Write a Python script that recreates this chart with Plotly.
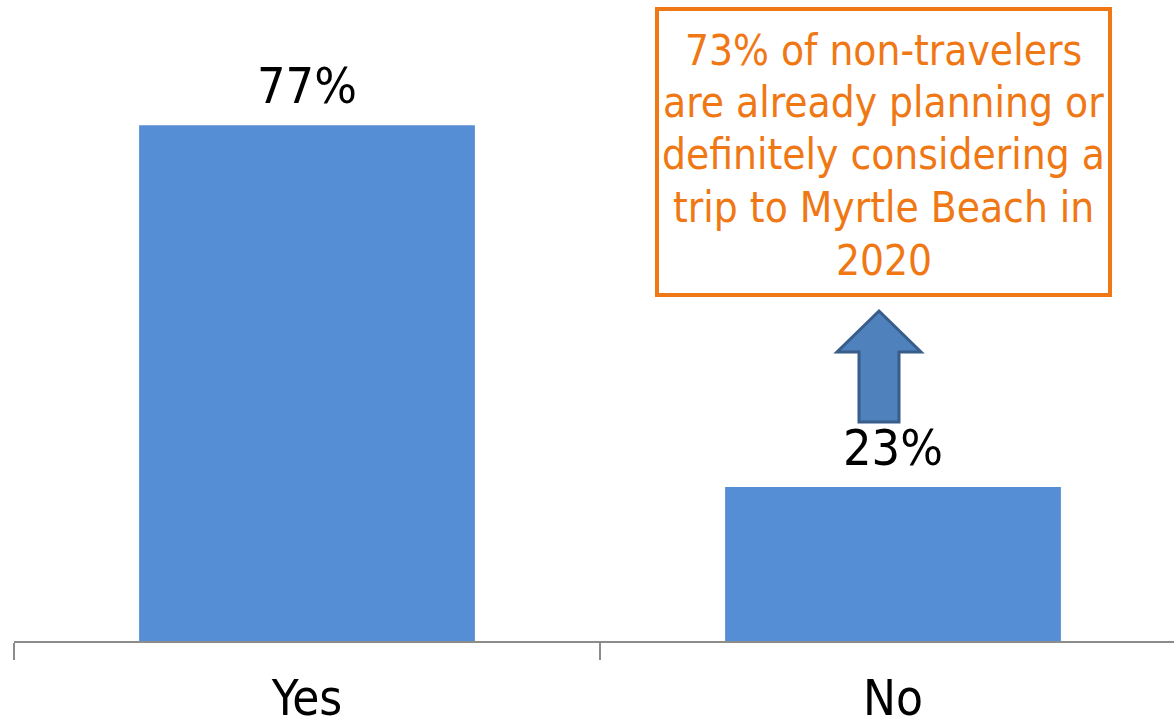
import plotly.graph_objects as go

# Survey answers and shares (%)
categories = ["Yes", "No"]
shares = [77, 23]
value_labels = ["77%", "23%"]
callout_lines = [
    "73% of non-travelers",
    "are already planning or",
    "definitely considering a",
    "trip to Myrtle Beach in",
    "2020",
]

FONT = "DejaVu Sans Condensed"
BAR_COLOR = "#558ED5"
ORANGE = "#F07814"

fig = go.Figure(
    go.Bar(
        x=categories,
        y=shares,
        marker=dict(color=BAR_COLOR, line=dict(width=0)),
        width=0.573,
    )
)

# Value labels above each bar
for cat, val, lab in zip(categories, shares, value_labels):
    fig.add_annotation(x=cat, y=val, text=lab, showarrow=False,
                       xanchor="center", yanchor="bottom", yshift=8,
                       font=dict(family=FONT, size=50, color="#000000"))

fig.update_layout(
    width=1174,
    height=727,
    margin=dict(l=14, r=0, t=0, b=86),
    paper_bgcolor="white",
    plot_bgcolor="white",
    showlegend=False,
    xaxis=dict(
        type="category",
        range=[-0.5, 1.4795],
        automargin=False,
        showline=True,
        linecolor="#8C8C8C",
        linewidth=1.5,
        ticks="outside",
        tickson="boundaries",
        ticklen=17,
        tickcolor="#8C8C8C",
        tickwidth=1.5,
        ticklabelstandoff=13,
        tickfont=dict(family=FONT, size=49, color="#000000"),
        showgrid=False,
        zeroline=False,
    ),
    yaxis=dict(
        range=[0, 95.7],
        visible=False,
        automargin=False,
        showgrid=False,
        zeroline=False,
    ),
)

# Up arrow above the "No" bar (paper coordinates)
def px_to_paper(px, py):
    return (px - 14) / 1160, (641 - py) / 641

arrow_pts = [(879, 311), (921, 352), (899, 352), (899, 422),
             (859, 422), (859, 352), (837, 352)]
pts = [px_to_paper(x, y) for x, y in arrow_pts]
path = "M " + " L ".join(f"{x:.5f},{y:.5f}" for x, y in pts) + " Z"
fig.add_shape(type="path", path=path, xref="paper", yref="paper",
              fillcolor="#4F81BD", line=dict(color="#385D8A", width=3))

# Callout box
x0, y0 = px_to_paper(657, 9)
x1, y1 = px_to_paper(1110, 295)
fig.add_shape(type="rect", xref="paper", yref="paper",
              x0=x0, x1=x1, y0=y1, y1=y0,
              line=dict(color=ORANGE, width=4), fillcolor="white")
for i, line in enumerate(callout_lines):
    cx, cy = px_to_paper(883.5, 50 + 52.5 * i)
    fig.add_annotation(xref="paper", yref="paper", x=cx, y=cy,
                       text=line, showarrow=False,
                       xanchor="center", yanchor="middle", align="center",
                       font=dict(family=FONT, size=42, color=ORANGE))

fig.write_html("out.html")
